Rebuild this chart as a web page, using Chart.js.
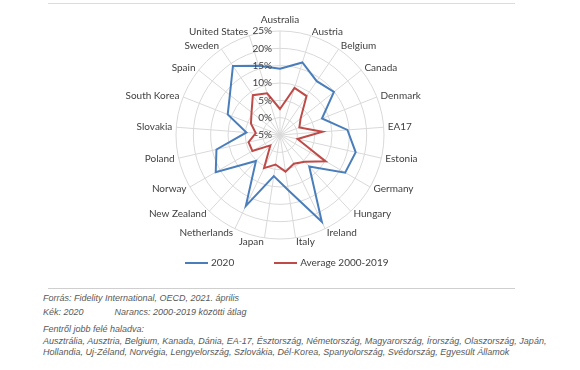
<!DOCTYPE html>
<html>
<head>
<meta charset="utf-8">
<script src="https://cdn.jsdelivr.net/npm/chart.js@4"></script>
<style>
  body { margin: 0; background: #fff; width: 580px; height: 370px; position: relative; overflow: hidden; }
  #frame { position: absolute; left: 48px; top: 3px; width: 467px; height: 284px; border-top: 1px solid #dcdcdc; border-bottom: 1px solid #cfcfcf; }
  #wrap { position: absolute; left: 0; top: 0; width: 561px; height: 258px; }
  #legend { position: absolute; top: 256px; left: 185px; font: 10px Lato, sans-serif; color: #404040; white-space: nowrap; }
  #legend .item { display: inline-block; }
  #legend .line { display: inline-block; width: 23px; height: 2px; vertical-align: middle; margin-right: 3px; }
  #notes { position: absolute; left: 43px; top: 293px; font: italic 9px "Liberation Sans", Arial, sans-serif; color: #595959; line-height: 11px; }
  #notes p { margin: 0; }
</style>
</head>
<body>
<div id="frame"></div>
<div id="wrap"><canvas id="chartRadar"></canvas></div>
<div id="legend"></div>
<div id="notes">
  <p>Forrás: Fidelity International, OECD, 2021. április</p>
  <p style="margin-top:3px">Kék: 2020<span style="display:inline-block;width:31px"></span>Narancs: 2000-2019 közötti átlag</p>
  <p style="margin-top:6px">Fentről jobb felé haladva:</p>
  <p style="margin-top:1px">Ausztrália, Ausztria, Belgium, Kanada, Dánia, EA-17, Észtország, Németország, Magyarország, Írország, Olaszország, Japán,</p>
  <p>Hollandia, Uj-Zéland, Norvégia, Lengyelország, Szlovákia, Dél-Korea, Spanyolország, Svédország, Egyesült Államok</p>
</div>
<script>
// pays, dans le sens des aiguilles d'une montre depuis le haut
const categories = ["Australia", "Austria", "Belgium", "Canada", "Denmark", "EA17", "Estonia",
    "Germany", "Hungary", "Ireland", "Italy", "Japan", "Netherlands", "New Zealand",
    "Norway", "Poland", "Slovakia", "South Korea", "Spain", "Sweden", "United States"]

const values2020 = [14.1, 16.9, 13.8, 14.9, 8.0, 14.5, 17.4, 16.7, 7.4, 22.8, 11.1,
    7.0, 17.7, 5.2, 16.4, 13.8, 4.7, 11.2, 13.5, 19.1, 15.9]

const valuesAverage = [2.5, 9.2, 8.6, 2.6, 1.0, 7.3, 0.2, 10.2, 5.5, 4.2, 5.7,
    3.6, 5.6, -0.9, 4.2, 4.3, 2.0, 4.0, 5.5, 8.9, 7.6]

const seriesNames = ["2020", "Average 2000-2019"]
const seriesColors = ["#4a7ebb", "#be4b48"]
const tickValues = [-5, 0, 5, 10, 15, 20, 25]

//labels des ticks (à gauche de l'axe vertical) et des pays, centrés verticalement comme excel
const labelsPlugin = {
    id: "excelLabels",
    afterDatasetsDraw(chart){
        let scale = chart.scales.r
        let ctx = chart.ctx
        ctx.save()
        ctx.font = "10px Lato"
        ctx.fillStyle = "#404040"
        ctx.textAlign = "right"
        ctx.textBaseline = "middle"
        tickValues.forEach((v) => {
            let d = scale.getDistanceFromCenterForValue(v)
            ctx.fillText(v + "%", scale.xCenter - 8, scale.yCenter - d)
        })

        categories.forEach((name, i) => {
            let pos
            if (i === 0){
                pos = scale.getPointPosition(i, scale.drawingArea + 6)
                ctx.textAlign = "center"
                ctx.textBaseline = "bottom"
            }
            else {
                pos = scale.getPointPosition(i, scale.drawingArea + 4)
                ctx.textAlign = pos.x > scale.xCenter ? "left" : "right"
                ctx.textBaseline = "middle"
            }
            ctx.fillText(name, pos.x, pos.y)
        })
        ctx.restore()
    }
}

let dataRadar = {
    labels: categories,
    datasets: [
    {
        label: seriesNames[0],
        data: values2020,
        borderColor: seriesColors[0],
        borderWidth: 2,
        fill: false,
        pointRadius: 0,
    },
    {
        label: seriesNames[1],
        data: valuesAverage,
        borderColor: seriesColors[1],
        borderWidth: 2,
        fill: false,
        pointRadius: 0,
    },
    ],
}

let configRadar = {
    type: "radar",
    data: dataRadar,
    options: {
        responsive: true,
        maintainAspectRatio: false,
        animation: false,
        layout: { padding: { top: 31, bottom: 19, left: 0, right: 0 } },
        elements: { line: { tension: 0 } },
        plugins: {
            legend: { display: false },
            tooltip: { enabled: false },
        },
        scales: {
            r: {
                min: -5,
                max: 25,
                ticks: { stepSize: 5, display: false },
                grid: { circular: true, color: "#d9d9d9", lineWidth: 1 },
                angleLines: { color: "#d9d9d9", lineWidth: 1 },
                pointLabels: { display: false },
            },
        },
    },
    plugins: [labelsPlugin],
}

new Chart(document.getElementById("chartRadar"), configRadar)

//légende en html sous le graphique
let legend = document.getElementById("legend")
seriesNames.forEach((name, i) => {
    let item = document.createElement("span")
    item.className = "item"
    if (i > 0) item.style.marginLeft = "40px"
    item.innerHTML = '<span class="line" style="background:' + seriesColors[i] + '"></span>' + name
    legend.appendChild(item)
})
</script>
</body>
</html>
